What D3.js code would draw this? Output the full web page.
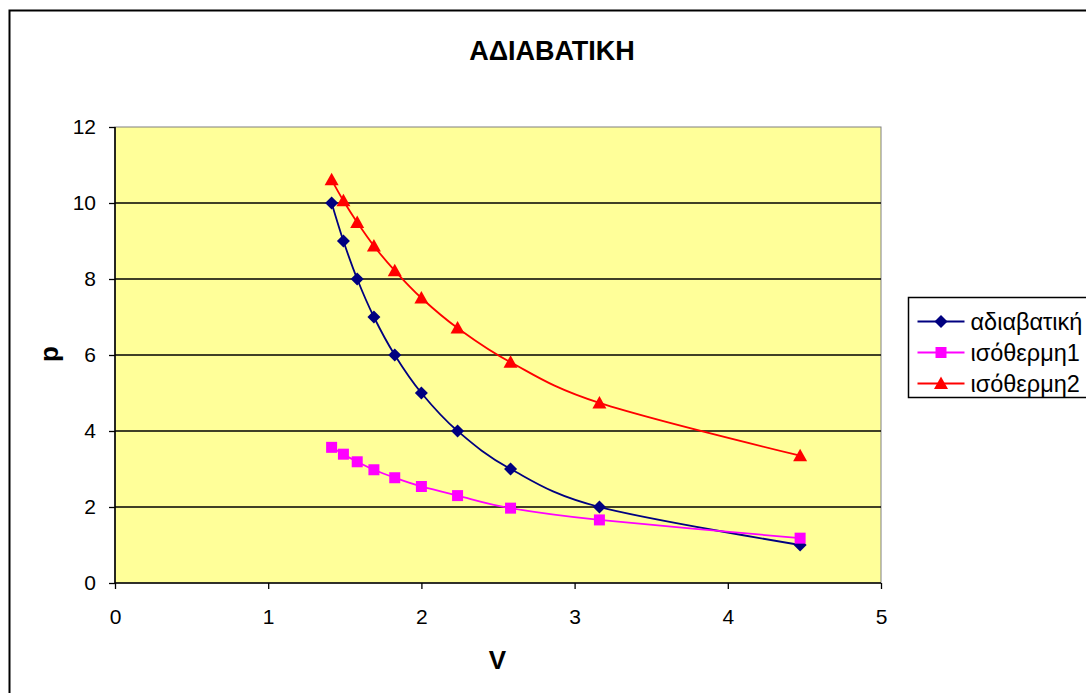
<!DOCTYPE html>
<html>
<head>
<meta charset="utf-8">
<script src="https://cdn.jsdelivr.net/npm/d3@7/dist/d3.min.js"></script>
<style>
  html, body { margin: 0; padding: 0; background: #fff; }
  svg { display: block; font-family: "Liberation Sans", Arial, sans-serif; }
</style>
</head>
<body>
<svg id="chart" width="1086" height="693"></svg>
<script>
// Volume values shared by all three curves
const volumes = [1.414, 1.491, 1.581, 1.690, 1.826, 2.000, 2.236, 2.582, 3.162, 4.472];

// Pressure series
const adiabatic = [10, 9, 8, 7, 6, 5, 4, 3, 2, 1];
const isotherm1 = [3.57, 3.39, 3.19, 2.98, 2.77, 2.54, 2.30, 1.97, 1.66, 1.18];
const isotherm2 = [10.61, 10.06, 9.49, 8.87, 8.22, 7.50, 6.71, 5.81, 4.74, 3.35];

const seriesNames = ["αδιαβατική", "ισόθερμη1", "ισόθερμη2"];
const xTicks = [0, 1, 2, 3, 4, 5];
const yTicks = [0, 2, 4, 6, 8, 10, 12];

const series = [
  { name: seriesNames[0], values: adiabatic, color: "#000080", symbol: "diamond" },
  { name: seriesNames[1], values: isotherm1, color: "#FF00FF", symbol: "square" },
  { name: seriesNames[2], values: isotherm2, color: "#FF0000", symbol: "triangle" }
];

const svg = d3.select("#chart");
const plot = { left: 115, top: 127, right: 881, bottom: 583 };

// Outer chart frame
svg.append("rect")
  .attr("x", 9.5).attr("y", 10.5)
  .attr("width", 1100).attr("height", 700)
  .attr("fill", "#fff").attr("stroke", "#000").attr("stroke-width", 2);

const x = d3.scaleLinear().domain([0, 5]).range([plot.left, plot.right]);
const y = d3.scaleLinear().domain([0, 12]).range([plot.bottom, plot.top]);

// Plot area background
svg.append("rect")
  .attr("x", plot.left).attr("y", plot.top)
  .attr("width", plot.right - plot.left).attr("height", plot.bottom - plot.top)
  .attr("fill", "#FFFF99").attr("stroke", "#808080").attr("stroke-width", 1);

// Horizontal gridlines
svg.append("g")
  .selectAll("line")
  .data(yTicks.filter(t => t > 0 && t < 12))
  .join("line")
  .attr("x1", plot.left).attr("x2", plot.right)
  .attr("y1", d => y(d)).attr("y2", d => y(d))
  .attr("stroke", "#000").attr("stroke-width", 1.6);

// Axes
const xAxis = svg.append("g")
  .attr("transform", `translate(0,${plot.bottom})`)
  .call(d3.axisBottom(x).tickValues(xTicks).tickSize(6).tickPadding(20).tickFormat(d3.format("d")));
const yAxis = svg.append("g")
  .attr("transform", `translate(${plot.left},0)`)
  .call(d3.axisLeft(y).tickValues(yTicks).tickSize(6).tickPadding(13).tickFormat(d3.format("d")));

[xAxis, yAxis].forEach(g => {
  g.attr("font-size", 21).attr("font-family", "'Liberation Sans', Arial, sans-serif");
  g.select(".domain").attr("stroke", "#000").attr("stroke-width", 1.6);
  g.selectAll(".tick line").attr("stroke", "#000").attr("stroke-width", 1.3);
  g.selectAll(".tick text").attr("fill", "#000").attr("font-size", 21);
});
// keep each domain a simple line without outer ticks
xAxis.select(".domain").attr("d", `M${plot.left},0H${plot.right}`);
yAxis.select(".domain").attr("d", `M0,${plot.bottom}V${plot.top}`);

// Curves
const line = d3.line()
  .x((d, i) => x(volumes[i]))
  .y(d => y(d))
  .curve(d3.curveCardinal.tension(0));

const markerPath = (symbol) => {
  if (symbol === "diamond") return "M0,-6.5L6.5,0L0,6.5L-6.5,0Z";
  if (symbol === "square") return "M-5.5,-5.5H5.5V5.5H-5.5Z";
  return "M0,-7L7,5.5L-7,5.5Z";
};

series.forEach(s => {
  svg.append("path")
    .datum(s.values)
    .attr("d", line)
    .attr("fill", "none")
    .attr("stroke", s.color)
    .attr("stroke-width", 1.8);
  svg.append("g")
    .selectAll("path")
    .data(s.values)
    .join("path")
    .attr("transform", (d, i) => `translate(${x(volumes[i])},${y(d)})`)
    .attr("d", markerPath(s.symbol))
    .attr("fill", s.color);
});

// Title and axis labels
svg.append("text")
  .attr("x", 552).attr("y", 60)
  .attr("text-anchor", "middle")
  .style("font-size", "27px").style("font-weight", "bold")
  .text("ΑΔΙΑΒΑΤΙΚΗ");

svg.append("text")
  .attr("x", 497.5).attr("y", 669)
  .attr("text-anchor", "middle")
  .style("font-size", "26px").style("font-weight", "bold")
  .text("V");

svg.append("text")
  .attr("transform", "translate(57.5,354) rotate(-90)")
  .attr("text-anchor", "middle")
  .style("font-size", "26px").style("font-weight", "bold")
  .text("p");

// Legend
const legend = svg.append("g").attr("transform", "translate(908.5,297.5)");
legend.append("rect")
  .attr("width", 200).attr("height", 100)
  .attr("fill", "#fff").attr("stroke", "#000").attr("stroke-width", 1.5);

const rows = legend.selectAll("g.row")
  .data(series)
  .join("g")
  .attr("class", "row")
  .attr("transform", (d, i) => `translate(0,${24 + i * 31})`);
rows.append("line")
  .attr("x1", 9).attr("x2", 56)
  .attr("stroke", d => d.color).attr("stroke-width", 1.8);
rows.append("path")
  .attr("transform", "translate(32.5,0)")
  .attr("d", d => markerPath(d.symbol))
  .attr("fill", d => d.color);
rows.append("text")
  .attr("x", 62).attr("y", 8)
  .style("font-size", "23.5px")
  .text(d => d.name);
</script>
</body>
</html>
